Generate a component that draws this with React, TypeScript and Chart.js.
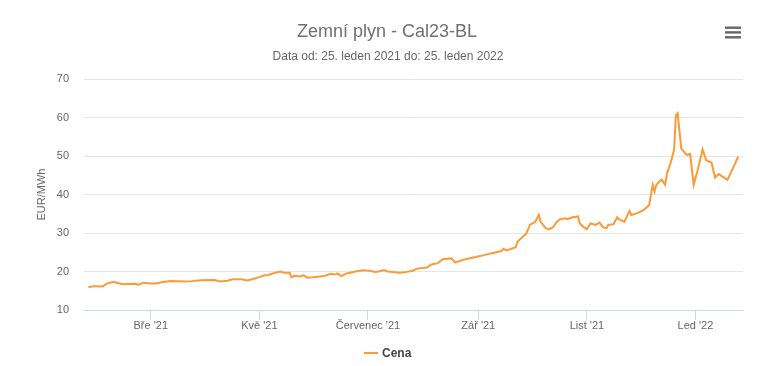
import React, { useEffect, useRef } from "react";
import { Chart, registerables } from "chart.js";

Chart.register(...registerables);

const TITLE = "Zemní plyn - Cal23-BL";
const SUBTITLE = "Data od: 25. leden 2021 do: 25. leden 2022";
const SERIES_NAME = "Cena";
const Y_TITLE = "EUR/MWh";
const START_DATE = "2021-01-25";

const dates = [
  "2021-01-25", "2021-01-28", "2021-02-02", "2021-02-04", "2021-02-08", "2021-02-10",
  "2021-02-13", "2021-02-20", "2021-02-22", "2021-02-25", "2021-03-01", "2021-03-04",
  "2021-03-07", "2021-03-12", "2021-03-20", "2021-03-24", "2021-03-29", "2021-04-06",
  "2021-04-09", "2021-04-13", "2021-04-16", "2021-04-21", "2021-04-24", "2021-04-27",
  "2021-04-30", "2021-05-04", "2021-05-06", "2021-05-10", "2021-05-13", "2021-05-15",
  "2021-05-18", "2021-05-19", "2021-05-21", "2021-05-24", "2021-05-26", "2021-05-28",
  "2021-05-31", "2021-06-04", "2021-06-07", "2021-06-10", "2021-06-13", "2021-06-14",
  "2021-06-16", "2021-06-19", "2021-06-24", "2021-06-28", "2021-07-02", "2021-07-05",
  "2021-07-07", "2021-07-10", "2021-07-12", "2021-07-15", "2021-07-19", "2021-07-23",
  "2021-07-26", "2021-07-29", "2021-08-03", "2021-08-06", "2021-08-09", "2021-08-12",
  "2021-08-17", "2021-08-19", "2021-08-23", "2021-09-02", "2021-09-08", "2021-09-14",
  "2021-09-15", "2021-09-17", "2021-09-22", "2021-09-23", "2021-09-26", "2021-09-28",
  "2021-09-30", "2021-10-03", "2021-10-05", "2021-10-06", "2021-10-09", "2021-10-11",
  "2021-10-13", "2021-10-15", "2021-10-17", "2021-10-20", "2021-10-21", "2021-10-24",
  "2021-10-27", "2021-10-28", "2021-10-30", "2021-11-01", "2021-11-03", "2021-11-06",
  "2021-11-08", "2021-11-10", "2021-11-12", "2021-11-13", "2021-11-16", "2021-11-18",
  "2021-11-19", "2021-11-22", "2021-11-25", "2021-11-26", "2021-11-30", "2021-12-03",
  "2021-12-06", "2021-12-08", "2021-12-09", "2021-12-10", "2021-12-13", "2021-12-15",
  "2021-12-16", "2021-12-18", "2021-12-20", "2021-12-21", "2021-12-22", "2021-12-24",
  "2021-12-27", "2021-12-29", "2021-12-31", "2022-01-02", "2022-01-05", "2022-01-07",
  "2022-01-10", "2022-01-12", "2022-01-14", "2022-01-19", "2022-01-25",
];

const prices = [
  15.9, 16.2, 16.1, 16.8, 17.3, 17.1,
  16.7, 16.8, 16.6, 17.1, 16.9, 16.9,
  17.2, 17.5, 17.4, 17.5, 17.7, 17.8,
  17.4, 17.6, 18.0, 18.0, 17.7, 18.0,
  18.4, 19.0, 19.1, 19.7, 20.0, 19.7,
  19.7, 18.5, 18.9, 18.7, 19.0, 18.4,
  18.5, 18.7, 18.9, 19.4, 19.2, 19.5,
  18.8, 19.5, 20.0, 20.3, 20.2, 19.9,
  20.0, 20.4, 20.0, 19.9, 19.7, 19.9,
  20.2, 20.8, 21.0, 21.9, 22.1, 23.2,
  23.4, 22.3, 23.0, 24.0, 24.7, 25.3,
  25.9, 25.5, 26.3, 27.7, 29.0, 29.9,
  32.1, 32.9, 34.7, 32.9, 31.2, 31.0,
  31.5, 32.9, 33.6, 33.8, 33.6, 34.1,
  34.3, 32.5, 31.6, 31.0, 32.5, 32.1,
  32.7, 31.5, 31.2, 32.1, 32.3, 34.1,
  33.6, 32.9, 35.7, 34.7, 35.3, 36.0,
  37.3, 42.5, 40.7, 42.5, 43.9, 42.5,
  45.5, 48.1, 51.6, 60.6, 61.1, 52.0,
  50.3, 50.5, 42.5, 45.9, 51.7, 48.9,
  48.3, 44.4, 45.3, 43.8, 49.8,
];

const monthTickDates = ["2021-03-01", "2021-05-01", "2021-07-01", "2021-09-01", "2021-11-01", "2022-01-01"];
const monthTickLabels = ["Bře '21", "Kvě '21", "Červenec '21", "Zář '21", "List '21", "Led '22"];
const yTickValues = [10, 20, 30, 40, 50, 60, 70];

const FONT = "'Liberation Sans', Arial, sans-serif";
const LINE_COLOR = "#fd9a38";

const t0 = Date.parse(START_DATE + "T00:00:00Z");
const dayOf = (s: string) => (Date.parse(s + "T00:00:00Z") - t0) / 86400000;

const decorPlugin = {
  id: "decor",
  afterDraw(chart: any) {
    const ctx = chart.ctx as CanvasRenderingContext2D;
    ctx.save();
    ctx.textAlign = "center";
    ctx.textBaseline = "alphabetic";
    ctx.fillStyle = "#707070";
    ctx.font = `18px ${FONT}`;
    ctx.fillText(TITLE, 387, 36.5);
    ctx.fillStyle = "#666666";
    ctx.font = `12px ${FONT}`;
    ctx.fillText(SUBTITLE, 388, 59.5);

    // menu icon
    ctx.fillStyle = "#666666";
    for (const y of [26.5, 31.2, 36.1]) ctx.fillRect(725, y, 16, 2.4);

    // legend
    ctx.strokeStyle = LINE_COLOR;
    ctx.lineWidth = 2;
    ctx.beginPath();
    ctx.moveTo(364, 353);
    ctx.lineTo(378, 353);
    ctx.stroke();
    ctx.fillStyle = "#444444";
    ctx.font = `bold 12px ${FONT}`;
    ctx.textAlign = "left";
    ctx.textBaseline = "middle";
    ctx.fillText(SERIES_NAME, 382, 353.5);
    ctx.restore();
  },
};

export default function App() {
  const ref = useRef<HTMLCanvasElement | null>(null);
  useEffect(() => {
    if (!ref.current) return;
    const tickDays = monthTickDates.map(dayOf);
    const chart = new Chart(ref.current, {
      type: "line",
      data: {
        datasets: [
          {
            label: SERIES_NAME,
            data: dates.map((d, i) => ({ x: dayOf(d), y: prices[i] })),
            borderColor: LINE_COLOR,
            backgroundColor: LINE_COLOR,
            borderWidth: 2,
            pointRadius: 0,
            tension: 0,
          },
        ],
      },
      options: {
        animation: false,
        responsive: true,
        maintainAspectRatio: false,
        layout: { padding: { top: 79, right: 20, bottom: 0, left: 0 } },
        plugins: {
          legend: { display: false },
          title: { display: false },
          tooltip: { enabled: false },
        },
        scales: {
          x: {
            type: "linear",
            min: -2.5,
            max: 367.7,
            afterBuildTicks: (scale: any) => {
              scale.ticks = tickDays.map((v) => ({ value: v }));
            },
            afterFit: (scale: any) => {
              scale.height = 56;
            },
            ticks: {
              autoSkip: false,
              maxRotation: 0,
              padding: -1,
              color: "#666666",
              font: { family: FONT, size: 11 },
              callback: (v: any) => {
                const i = tickDays.indexOf(Number(v));
                return i >= 0 ? monthTickLabels[i] : "";
              },
            },
            grid: {
              drawOnChartArea: false,
              drawTicks: true,
              tickLength: 10,
              color: "#ccd6eb",
            },
            border: { display: true, color: "#ccd6eb", width: 1 },
          },
          y: {
            min: 10,
            max: 70,
            afterBuildTicks: (scale: any) => {
              scale.ticks = yTickValues.map((v) => ({ value: v }));
            },
            afterFit: (scale: any) => {
              scale.width = 84;
            },
            ticks: {
              padding: 15,
              color: "#666666",
              font: { family: FONT, size: 11 },
            },
            grid: {
              drawTicks: false,
              color: (c: any) => (c.tick && c.tick.value === 10 ? "rgba(0,0,0,0)" : "#e6e6e6"),
            },
            border: { display: false },
            title: {
              display: true,
              text: Y_TITLE,
              color: "#666666",
              font: { family: FONT, size: 11 },
              padding: { top: 35.5, bottom: 0 },
            },
          },
        },
      },
      plugins: [decorPlugin],
    });
    return () => chart.destroy();
  }, []);
  return (
    <div style={{ position: "fixed", left: 0, top: 0, width: 763, height: 366, background: "#fff" }}>
      <canvas ref={ref} />
    </div>
  );
}
